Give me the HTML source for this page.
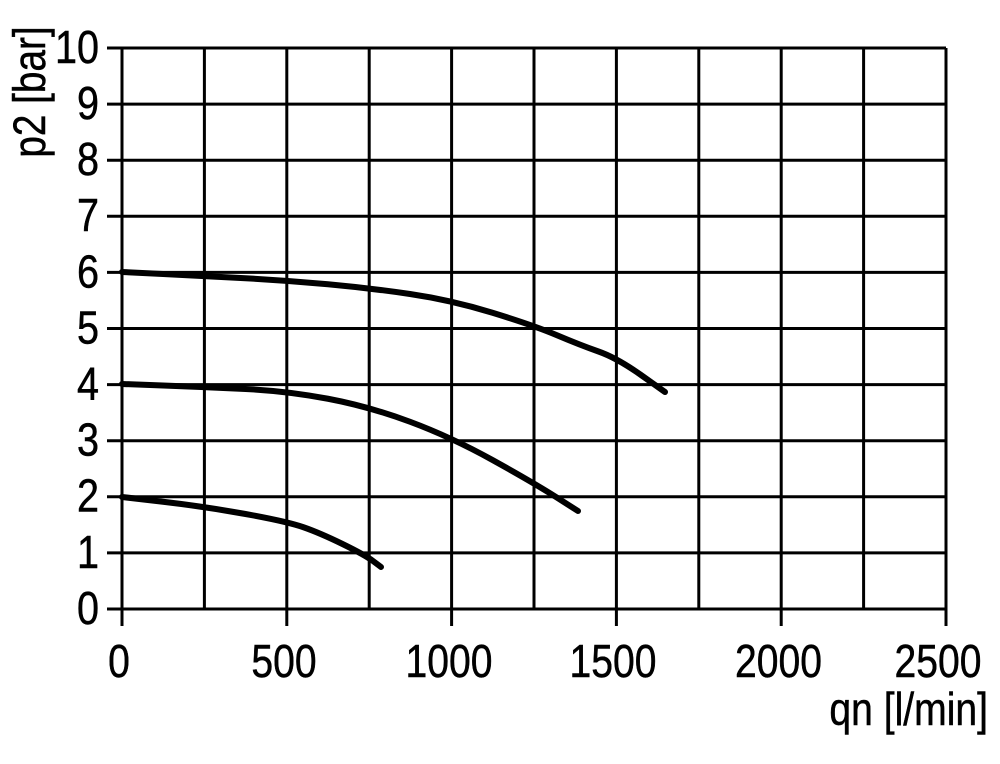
<!DOCTYPE html>
<html>
<head>
<meta charset="utf-8">
<style>
  html, body { margin: 0; padding: 0; background: #fff; }
  svg { display: block; }
  text { font-family: "Liberation Sans", Arial, sans-serif; fill: #000; stroke: #000; stroke-width: 0.5; }
</style>
</head>
<body>
<svg width="1000" height="764" viewBox="0 0 1000 764" xmlns="http://www.w3.org/2000/svg">
  <rect width="1000" height="764" fill="#fff"/>
  <g stroke="#000" stroke-width="3" fill="none">
    <line x1="107" y1="48" x2="946" y2="48"/>
    <line x1="107" y1="104.1" x2="946" y2="104.1"/>
    <line x1="107" y1="160.2" x2="946" y2="160.2"/>
    <line x1="107" y1="216.3" x2="946" y2="216.3"/>
    <line x1="107" y1="272.4" x2="946" y2="272.4"/>
    <line x1="107" y1="328.5" x2="946" y2="328.5"/>
    <line x1="107" y1="384.6" x2="946" y2="384.6"/>
    <line x1="107" y1="440.7" x2="946" y2="440.7"/>
    <line x1="107" y1="496.8" x2="946" y2="496.8"/>
    <line x1="107" y1="552.9" x2="946" y2="552.9"/>
    <line x1="107" y1="609" x2="946" y2="609"/>
    <line x1="122" y1="48" x2="122" y2="626"/>
    <line x1="204.4" y1="48" x2="204.4" y2="609"/>
    <line x1="286.8" y1="48" x2="286.8" y2="626"/>
    <line x1="369.2" y1="48" x2="369.2" y2="609"/>
    <line x1="451.6" y1="48" x2="451.6" y2="626"/>
    <line x1="534" y1="48" x2="534" y2="609"/>
    <line x1="616.4" y1="48" x2="616.4" y2="626"/>
    <line x1="698.8" y1="48" x2="698.8" y2="609"/>
    <line x1="781.2" y1="48" x2="781.2" y2="626"/>
    <line x1="863.6" y1="48" x2="863.6" y2="609"/>
    <line x1="946" y1="48" x2="946" y2="626"/>
  </g>

  <g stroke="#000" stroke-width="6" fill="none" stroke-linecap="round" stroke-linejoin="round">
    <path d="M122,272 L163,274 Q204,276 245.5,278.25 Q287,280.5 328,284.25 Q369,288 410,294 Q451,300 492.5,312.75 Q534,325.5 557,335.25 Q580,345 598.5,351.5 Q617,358 641,375 L665,392"/>
    <path d="M122,384 L163,385.5 Q204,387 245.5,389 Q287,391 328,398.75 Q369,406.5 410,421.75 Q451,437 492.5,460 Q534,483 556,497 L578,511"/>
    <path d="M122,497 L163,501.75 Q204,506.5 245.5,514 Q287,521.5 303.5,527.25 Q320,533 342.5,544 Q365,555 373,561 L381,567"/>
  </g>

  <g font-size="46" text-anchor="end">
    <text transform="translate(99,63) scale(0.86,1)">10</text>
    <text transform="translate(99,119) scale(0.86,1)">9</text>
    <text transform="translate(99,175) scale(0.86,1)">8</text>
    <text transform="translate(99,231) scale(0.86,1)">7</text>
    <text transform="translate(99,287.5) scale(0.86,1)">6</text>
    <text transform="translate(99,343.5) scale(0.86,1)">5</text>
    <text transform="translate(99,399.5) scale(0.86,1)">4</text>
    <text transform="translate(99,455.5) scale(0.86,1)">3</text>
    <text transform="translate(99,511.5) scale(0.86,1)">2</text>
    <text transform="translate(99,568) scale(0.86,1)">1</text>
    <text transform="translate(99,624) scale(0.86,1)">0</text>
  </g>

  <g font-size="46" text-anchor="middle">
    <text transform="translate(119,677) scale(0.85,1)">0</text>
    <text transform="translate(284,677) scale(0.85,1)">500</text>
    <text transform="translate(449,677) scale(0.85,1)">1000</text>
    <text transform="translate(613,677) scale(0.85,1)">1500</text>
    <text transform="translate(778.5,677) scale(0.85,1)">2000</text>
    <text transform="translate(938,677) scale(0.85,1)">2500</text>
  </g>

  <text font-size="46" text-anchor="end" transform="translate(988,725) scale(0.85,1)">qn [l/min]</text>
  <text font-size="45" text-anchor="middle" transform="translate(45,92) rotate(-90) scale(0.86,1)">p2 [bar]</text>
</svg>
</body>
</html>
